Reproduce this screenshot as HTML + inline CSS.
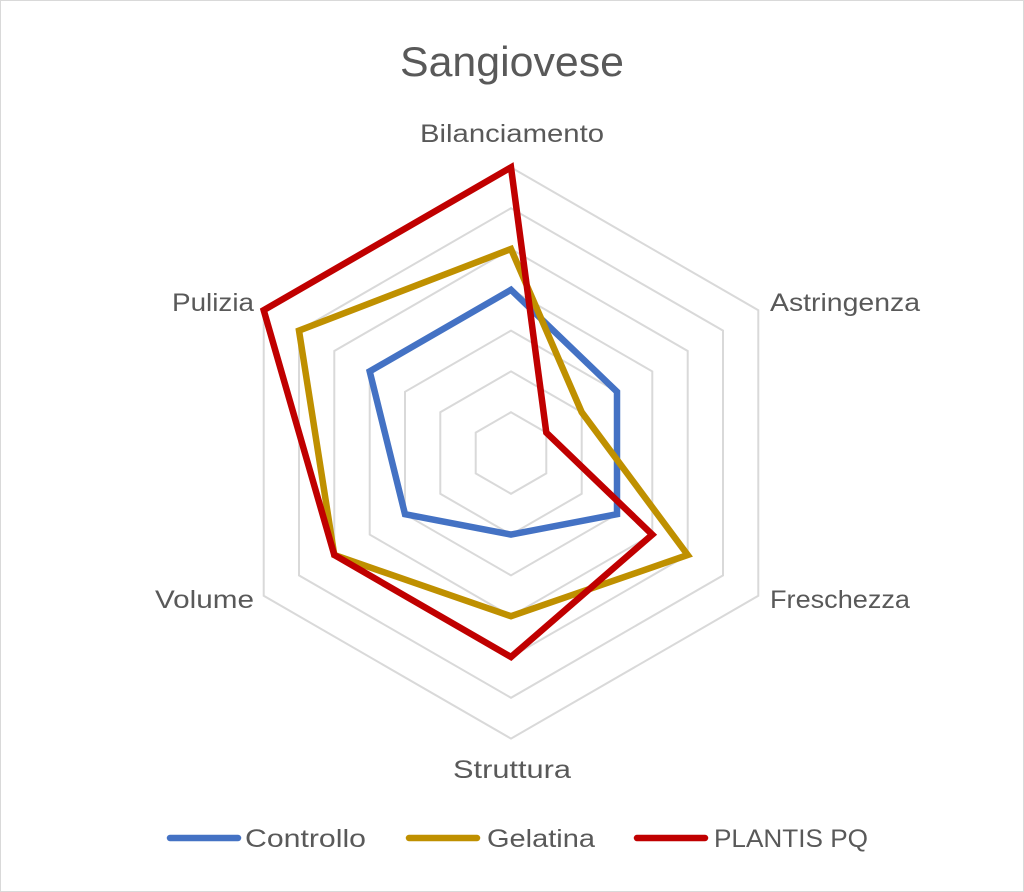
<!DOCTYPE html>
<html><head><meta charset="utf-8"><style>
html,body{margin:0;padding:0;background:#fff}
svg{display:block}
text{font-family:"Liberation Sans",sans-serif;fill:#595959}
</style></head><body>
<svg id="s" width="1024" height="892" viewBox="0 0 1024 892" xmlns="http://www.w3.org/2000/svg">
<rect x="0.5" y="0.5" width="1023" height="891" fill="#fff" stroke="#d9d9d9"/>
<g id="grid" fill="none" stroke="#d9d9d9" stroke-width="2"></g>
<g id="series" fill="none" stroke-width="6.5" stroke-linejoin="miter"></g>
<text x="512" y="76" font-size="42" text-anchor="middle" textLength="224" lengthAdjust="spacingAndGlyphs">Sangiovese</text>
<text x="512" y="142" font-size="25" text-anchor="middle" textLength="184" lengthAdjust="spacingAndGlyphs">Bilanciamento</text>
<text x="770" y="311" font-size="25" textLength="150" lengthAdjust="spacingAndGlyphs">Astringenza</text>
<text x="770" y="608" font-size="25" textLength="140" lengthAdjust="spacingAndGlyphs">Freschezza</text>
<text x="512" y="778" font-size="25" text-anchor="middle" textLength="118" lengthAdjust="spacingAndGlyphs">Struttura</text>
<text x="155" y="608" font-size="25" textLength="99" lengthAdjust="spacingAndGlyphs">Volume</text>
<text x="172" y="311" font-size="25" textLength="82" lengthAdjust="spacingAndGlyphs">Pulizia</text>
<line x1="170" y1="838" x2="238" y2="838" stroke="#4472c4" stroke-width="6.5" stroke-linecap="round"/>
<text x="245" y="847" font-size="25" textLength="121" lengthAdjust="spacingAndGlyphs">Controllo</text>
<line x1="409" y1="838" x2="477" y2="838" stroke="#bf9000" stroke-width="6.5" stroke-linecap="round"/>
<text x="487" y="847" font-size="25" textLength="108" lengthAdjust="spacingAndGlyphs">Gelatina</text>
<line x1="637" y1="838" x2="705" y2="838" stroke="#c00000" stroke-width="6.5" stroke-linecap="round"/>
<text x="714" y="847" font-size="25" textLength="154" lengthAdjust="spacingAndGlyphs">PLANTIS PQ</text>
</svg>
<script>
var cx=511,cy=453,st=40.8,NS="http://www.w3.org/2000/svg";
var u=[[0,-1],[0.866,-0.5],[0.866,0.5],[0,1],[-0.866,0.5],[-0.866,-0.5]];
function pts(v){return v.map(function(k,i){return (cx+u[i][0]*k*st).toFixed(1)+","+(cy+u[i][1]*k*st).toFixed(1)}).join(" ");}
var g=document.getElementById("grid");
for(var k=1;k<=7;k++){var p=document.createElementNS(NS,"polygon");p.setAttribute("points",pts([k,k,k,k,k,k]));g.appendChild(p);}
var s=document.getElementById("series");
[[[4,3,3,2,3,4],"#4472c4"],[[5,2,5,4,5,6],"#bf9000"],[[7,1,4,5,5,7],"#c00000"]].forEach(function(d){
var p=document.createElementNS(NS,"polygon");p.setAttribute("points",pts(d[0]));p.setAttribute("stroke",d[1]);s.appendChild(p);});
</script>
</body></html>
